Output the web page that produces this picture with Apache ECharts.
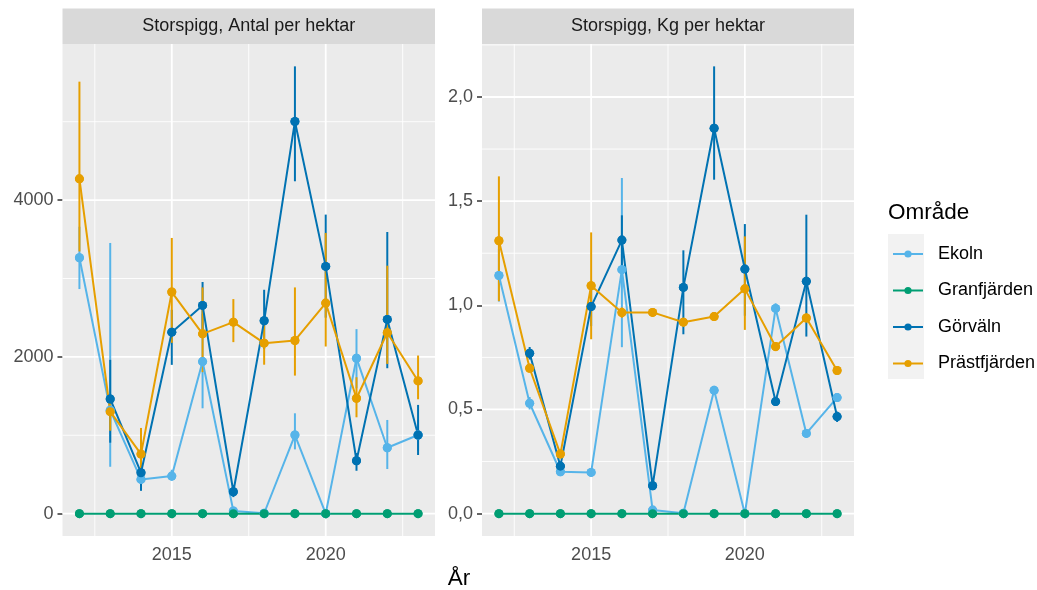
<!DOCTYPE html>
<html><head><meta charset="utf-8">
<script src="https://cdn.jsdelivr.net/npm/echarts@6/dist/echarts.min.js"></script>
<style>html,body{margin:0;padding:0;background:#fff}#c{width:1037px;height:590px}</style>
</head><body><div id="c"></div>
<script>
const years = [2012,2013,2014,2015,2016,2017,2018,2019,2020,2021,2022,2023];
const areaNames = ['Ekoln','Granfjärden','Görväln','Prästfjärden'];
const areaColors = ['#56B4E9','#009E73','#0072B2','#E69F00'];
const panelTitles = ['Storspigg, Antal per hektar','Storspigg, Kg per hektar'];
const xTickValues = [2015, 2020];
const antalTickValues = [0, 2000, 4000];
const kgTickValues = [0, 0.5, 1.0, 1.5, 2.0];

// Antal per hektar: value, lower, upper
const antalEkoln   = [3264,1320,437,479,1940,35,5,1003,0,1983,841,1003];
const antalEkolnLo = [2865,598,400,420,1344,10,0,820,0,1600,569,800];
const antalEkolnHi = [3660,3453,480,560,2550,60,10,1280,0,2354,1195,1200];
const antalGranfjarden   = [0,0,0,0,0,0,0,0,0,0,0,0];
const antalGranfjardenLo = [0,0,0,0,0,0,0,0,0,0,0,0];
const antalGranfjardenHi = [0,0,0,0,0,0,0,0,0,0,0,0];
const antalGorvaln   = [null,1463,522,2315,2656,279,2460,5003,3154,675,2478,1003];
const antalGorvalnLo = [null,905,291,1898,2350,211,2100,4240,2500,547,1855,748];
const antalGorvalnHi = [null,1962,726,2600,2955,364,2856,5706,3815,773,3593,1387];
const antalPrastfjarden   = [4271,1301,760,2827,2294,2443,2175,2209,2686,1472,2307,1693];
const antalPrastfjardenLo = [3345,1058,518,2179,1805,2188,1900,1761,2132,1229,1910,1459];
const antalPrastfjardenHi = [5511,1463,1093,3517,2886,2737,2450,2886,3581,1740,3163,2017];

// Kg per hektar: value, lower, upper
const kgEkoln   = [1.143,0.530,0.201,0.198,1.171,0.017,0.002,0.592,0.0,0.985,0.385,0.557];
const kgEkolnLo = [1.018,0.50,0.19,0.18,0.799,0.005,0,0.57,0,0.96,0.37,0.54];
const kgEkolnHi = [1.27,0.56,0.21,0.21,1.611,0.03,0.005,0.61,0,1.01,0.40,0.57];
const kgGranfjarden   = [0,0,0,0,0,0,0,0,0,0,0,0];
const kgGranfjardenLo = [0,0,0,0,0,0,0,0,0,0,0,0];
const kgGranfjardenHi = [0,0,0,0,0,0,0,0,0,0,0,0];
const kgGorvaln   = [null,0.770,0.228,0.994,1.313,0.134,1.086,1.850,1.174,0.538,1.115,0.466];
const kgGorvalnLo = [null,0.74,0.20,0.90,1.15,0.12,0.861,1.603,0.95,0.52,0.850,0.44];
const kgGorvalnHi = [null,0.80,0.25,1.09,1.432,0.15,1.264,2.147,1.390,0.56,1.435,0.49];
const kgPrastfjarden   = [1.310,0.698,0.286,1.094,0.965,0.966,0.919,0.946,1.079,0.802,0.939,0.687];
const kgPrastfjardenLo = [1.02,0.68,0.27,0.837,0.94,0.95,0.90,0.93,0.882,0.78,0.92,0.67];
const kgPrastfjardenHi = [1.619,0.72,0.30,1.350,0.99,0.98,0.94,0.96,1.331,0.82,0.96,0.70];

const panels = [
  { ticks: antalTickValues,
    sets: [[antalEkoln,antalEkolnLo,antalEkolnHi],[antalGranfjarden,antalGranfjardenLo,antalGranfjardenHi],
           [antalGorvaln,antalGorvalnLo,antalGorvalnHi],[antalPrastfjarden,antalPrastfjardenLo,antalPrastfjardenHi]],
    fmt: v => String(v) },
  { ticks: kgTickValues,
    sets: [[kgEkoln,kgEkolnLo,kgEkolnHi],[kgGranfjarden,kgGranfjardenLo,kgGranfjardenHi],
           [kgGorvaln,kgGorvalnLo,kgGorvalnHi],[kgPrastfjarden,kgPrastfjardenLo,kgPrastfjardenHi]],
    fmt: v => v.toFixed(1).replace('.', ',') }
];

const FONT = '"Liberation Sans", Arial, sans-serif';
const gridBoxes = [
  {left: 62.5, top: 44, width: 372.5, height: 492},
  {left: 482, top: 44, width: 372, height: 492}
];

const xMin = years[0] - 0.05 * (years[years.length-1] - years[0]);
const xMax = years[years.length-1] + 0.05 * (years[years.length-1] - years[0]);

const grid = [], xAxis = [], yAxis = [], series = [];

function minorsOf(majors, lo, hi) {
  const step = majors[1] - majors[0];
  const out = [];
  for (let v = majors[0] - step / 2; v <= hi; v += step) if (v >= lo) out.push(+v.toFixed(6));
  return out;
}

panels.forEach((p, pi) => {
  let maxHi = 0;
  p.sets.forEach(s => s[2].forEach(v => { if (v != null && v > maxHi) maxHi = v; }));
  const yMin = -0.05 * maxHi, yMax = maxHi * 1.05;

  grid.push(Object.assign({show: true, backgroundColor: '#EBEBEB', borderWidth: 0,
    containLabel: false, outerBoundsMode: 'none'}, gridBoxes[pi]));
  xAxis.push({type: 'value', gridIndex: pi, min: xMin, max: xMax,
    axisLine: {show: false}, splitLine: {show: false},
    axisTick: {show: true, length: 5, customValues: xTickValues, lineStyle: {color: '#333333', width: 1.5}},
    axisLabel: {customValues: xTickValues, fontSize: 18, color: '#4D4D4D', margin: 10, fontFamily: FONT,
      formatter: v => String(Math.round(v))}});
  yAxis.push({type: 'value', gridIndex: pi, min: yMin, max: yMax,
    axisLine: {show: false}, splitLine: {show: false},
    axisTick: {show: true, length: 5, customValues: p.ticks, lineStyle: {color: '#333333', width: 1.5}},
    axisLabel: {customValues: p.ticks, fontSize: 18, color: '#4D4D4D', margin: 9, fontFamily: FONT, formatter: p.fmt}});

  // gridlines
  const xMinors = minorsOf(xTickValues, xMin, xMax);
  const yMinors = minorsOf(p.ticks, yMin, yMax);
  const vData = xMinors.map(v => [v, 0, 0.9]).concat(xTickValues.map(v => [v, 0, 1.8]));
  const hData = yMinors.map(v => [years[0], v, 0.9]).concat(p.ticks.map(v => [years[0], v, 1.8]));
  series.push({type: 'custom', xAxisIndex: pi, yAxisIndex: pi, z: 1, silent: true, data: vData,
    renderItem: (params, api) => {
      const cs = params.coordSys; const x = api.coord([api.value(0), api.value(1)])[0];
      return {type: 'line', shape: {x1: x, y1: cs.y, x2: x, y2: cs.y + cs.height},
        style: {stroke: '#FFFFFF', lineWidth: api.value(2)}};
    }});
  series.push({type: 'custom', xAxisIndex: pi, yAxisIndex: pi, z: 1, silent: true, data: hData,
    renderItem: (params, api) => {
      const cs = params.coordSys; const y = api.coord([api.value(0), api.value(1)])[1];
      return {type: 'line', shape: {x1: cs.x, y1: y, x2: cs.x + cs.width, y2: y},
        style: {stroke: '#FFFFFF', lineWidth: api.value(2)}};
    }});

  // error bars
  p.sets.forEach((s, ai) => {
    const data = [];
    years.forEach((yr, k) => { if (s[0][k] != null && s[2][k] > s[1][k]) data.push([yr, s[1][k], s[2][k]]); });
    series.push({type: 'custom', name: areaNames[ai] + ' fel', xAxisIndex: pi, yAxisIndex: pi, z: 2, silent: true,
      encode: {x: 0, y: [1, 2]}, data: data,
      renderItem: (params, api) => {
        const a = api.coord([api.value(0), api.value(1)]);
        const b = api.coord([api.value(0), api.value(2)]);
        return {type: 'line', shape: {x1: a[0], y1: a[1], x2: b[0], y2: b[1]},
          style: {stroke: areaColors[ai], lineWidth: 2}};
      }});
  });
  // lines
  p.sets.forEach((s, ai) => {
    const data = [];
    years.forEach((yr, k) => { if (s[0][k] != null) data.push([yr, s[0][k]]); });
    series.push({type: 'line', name: areaNames[ai], xAxisIndex: pi, yAxisIndex: pi, z: 3,
      data: data, symbol: 'circle', symbolSize: 9, showSymbol: true, silent: true,
      color: areaColors[ai], lineStyle: {width: 2, color: areaColors[ai]},
      itemStyle: {color: areaColors[ai]}, animation: false});
  });
  // points on top
  p.sets.forEach((s, ai) => {
    const data = [];
    years.forEach((yr, k) => { if (s[0][k] != null) data.push([yr, s[0][k]]); });
    series.push({type: 'scatter', name: areaNames[ai] + ' punkt', xAxisIndex: pi, yAxisIndex: pi, z: 4,
      data: data, symbol: 'circle', symbolSize: 9, silent: true,
      itemStyle: {color: areaColors[ai], opacity: 1}, animation: false});
  });
});

const graphicEls = [];
gridBoxes.forEach((g, i) => {
  graphicEls.push({type: 'rect', left: g.left, top: 8.5, shape: {width: g.width, height: 35.5},
    style: {fill: '#D9D9D9'}, silent: true});
  graphicEls.push({type: 'text', x: g.left + g.width / 2, y: 26.5,
    style: {text: panelTitles[i], font: '18px ' + FONT, fill: '#1A1A1A', textAlign: 'center', textVerticalAlign: 'middle'}});
});
graphicEls.push({type: 'text', x: 459, y: 579,
  style: {text: 'År', font: '22.5px ' + FONT, fill: '#000000', textAlign: 'center', textVerticalAlign: 'middle'}});
graphicEls.push({type: 'text', x: 888, y: 213,
  style: {text: 'Område', font: '22.5px ' + FONT, fill: '#000000', textAlign: 'left', textVerticalAlign: 'middle'}});
graphicEls.push({type: 'rect', left: 888, top: 234, shape: {width: 36, height: 145}, style: {fill: '#F2F2F2'}, z: -1, silent: true});

const chart = echarts.init(document.getElementById('c'));
chart.setOption({
  animation: false,
  textStyle: {fontFamily: FONT},
  grid, xAxis, yAxis, series,
  graphic: {elements: graphicEls},
  legend: {data: areaNames, orient: 'vertical', left: 892, top: 245, padding: 0, itemWidth: 30, itemHeight: 9,
    itemGap: 18.5, selectedMode: false,
    textStyle: {fontSize: 18, color: '#000000', fontFamily: FONT, padding: [0, 0, 0, 10], lineHeight: 18}}
});
</script></body></html>
